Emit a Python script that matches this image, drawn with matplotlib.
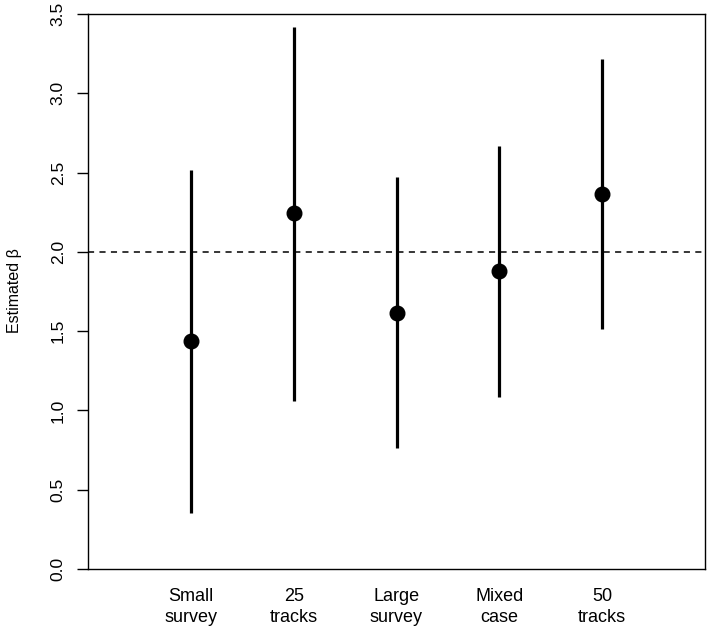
import numpy as np
import matplotlib
matplotlib.use("Agg")
import matplotlib.pyplot as plt

plt.rcParams['font.family'] = ['Liberation Sans', 'DejaVu Sans']

# estimates
scenarios = ["Small\nsurvey", "25\ntracks", "Large\nsurvey", "Mixed\ncase", "50\ntracks"]
beta_est = [1.44, 2.245, 1.615, 1.88, 2.365]
ci_low = [0.355, 1.06, 0.763, 1.085, 1.513]
ci_high = [2.515, 3.42, 2.47, 2.667, 3.216]
true_beta = 2.0
y_ticks = [0.0, 0.5, 1.0, 1.5, 2.0, 2.5, 3.0, 3.5]

fig = plt.figure(figsize=(7.09, 6.28), dpi=100)
ax = fig.add_axes([88 / 709, 59 / 628, 617 / 709, 555 / 628])

xpos = np.arange(1, len(scenarios) + 1)
ax.vlines(xpos, ci_low, ci_high, color='black', lw=2.3, zorder=2)
ax.plot(xpos, beta_est, 'o', color='black', markersize=10.5, zorder=3)
ax.axhline(true_beta, color='black', lw=1.1, ls=(0, (4, 3.5)), zorder=1)

ax.set_xlim(0, len(scenarios) + 1)
ax.set_ylim(0, 3.5)
ax.set_xticks(xpos)
ax.set_xticklabels(scenarios, fontsize=13, linespacing=1.25)
ax.tick_params(axis='x', length=0, pad=14)
ax.set_yticks(y_ticks)
ax.set_yticklabels([f"{v:.1f}" for v in y_ticks], rotation=90, va='center', fontsize=12.5)
ax.tick_params(axis='y', length=8, width=1.0, pad=8, direction='out')
for sp in ax.spines.values():
    sp.set_linewidth(1.0)

fig.text(15 / 709, 1 - 291 / 628, "Estimated β", rotation=90, ha='center', va='center', fontsize=11.5)

fig.savefig("out.png", dpi=100)
